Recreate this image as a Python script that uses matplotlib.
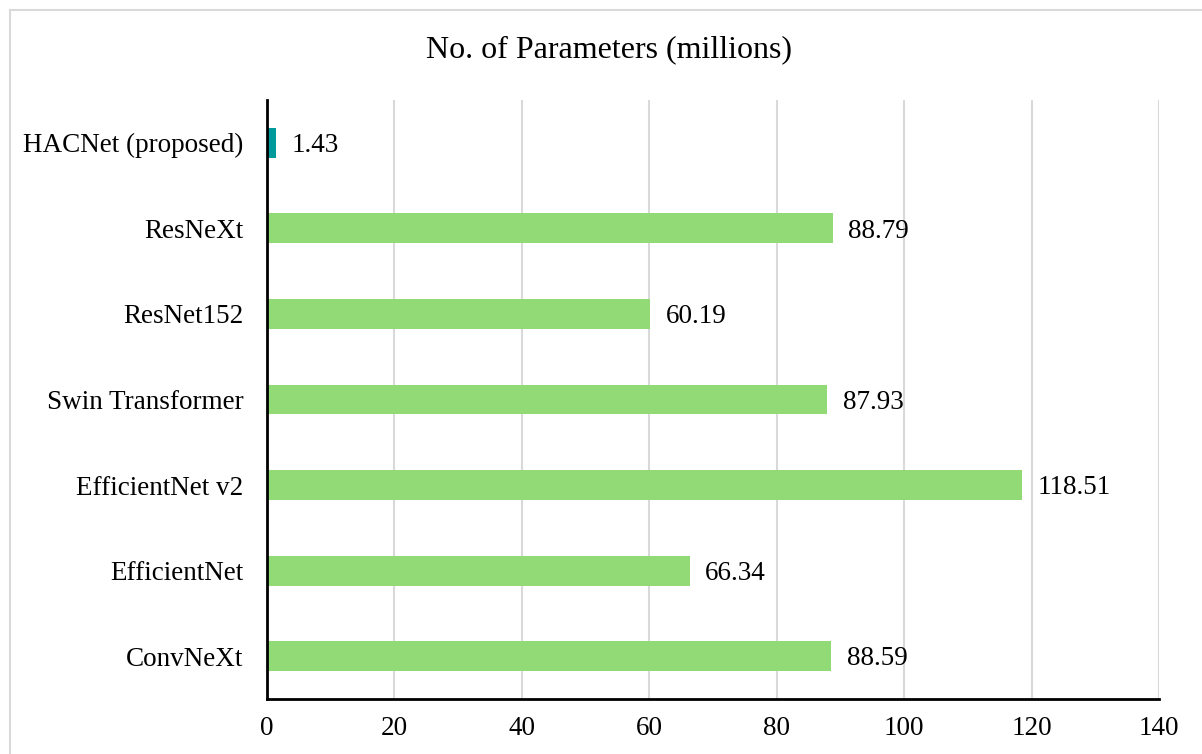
import matplotlib.pyplot as plt
from matplotlib.patches import Rectangle

plt.rcParams['font.family'] = ['Liberation Serif', 'DejaVu Serif']

models = ["ConvNeXt", "EfficientNet", "EfficientNet v2", "Swin Transformer",
          "ResNet152", "ResNeXt", "HACNet (proposed)"]
params = [88.59, 66.34, 118.51, 87.93, 60.19, 88.79, 1.43]
bar_colors = ["#92DA76"] * 6 + ["#009A9A"]
xticks = [0, 20, 40, 60, 80, 100, 120, 140]

fig = plt.figure(figsize=(12.02, 7.54), dpi=100)
ax = fig.add_axes([267 / 1202, 1 - 699 / 754, 892 / 1202, 599 / 754])

# light grey outer frame (open at right and bottom)
fig.patches.append(Rectangle((10 / 1202, -0.1), 1.2, 1 - 10 / 754 + 0.1,
                             transform=fig.transFigure, fill=False,
                             edgecolor="#D9D9D9", linewidth=1.5, zorder=0))

ypos = list(range(len(models)))
ax.barh(ypos, params, height=0.35, color=bar_colors, zorder=3)
for y, v in zip(ypos, params):
    ax.annotate(f"{v:.2f}", (v, y), xytext=(11, -2), textcoords="offset points",
                va="center", ha="left", fontsize=19.5, color="black")

ax.set_xlim(0, 140)
ax.set_ylim(-0.5, 6.5)
ax.set_xticks(xticks)
ax.set_yticks(ypos)
ax.set_yticklabels(models)
ax.tick_params(axis="both", length=0, labelsize=19.5, colors="black")
ax.tick_params(axis="x", pad=12)
ax.tick_params(axis="y", pad=17)
ax.grid(axis="x", color="#D9D9D9", linewidth=1.5, zorder=0)
ax.set_axisbelow(True)
for side in ["top", "right"]:
    ax.spines[side].set_visible(False)
for side in ["left", "bottom"]:
    ax.spines[side].set_color("black")
    ax.spines[side].set_linewidth(2)
    ax.spines[side].set_zorder(4)

fig.text(609 / 1202, 1 - 50 / 754, "No. of Parameters (millions)",
         ha="center", va="center", fontsize=23, color="black")

fig.savefig("out.png", dpi=100, facecolor="white")
